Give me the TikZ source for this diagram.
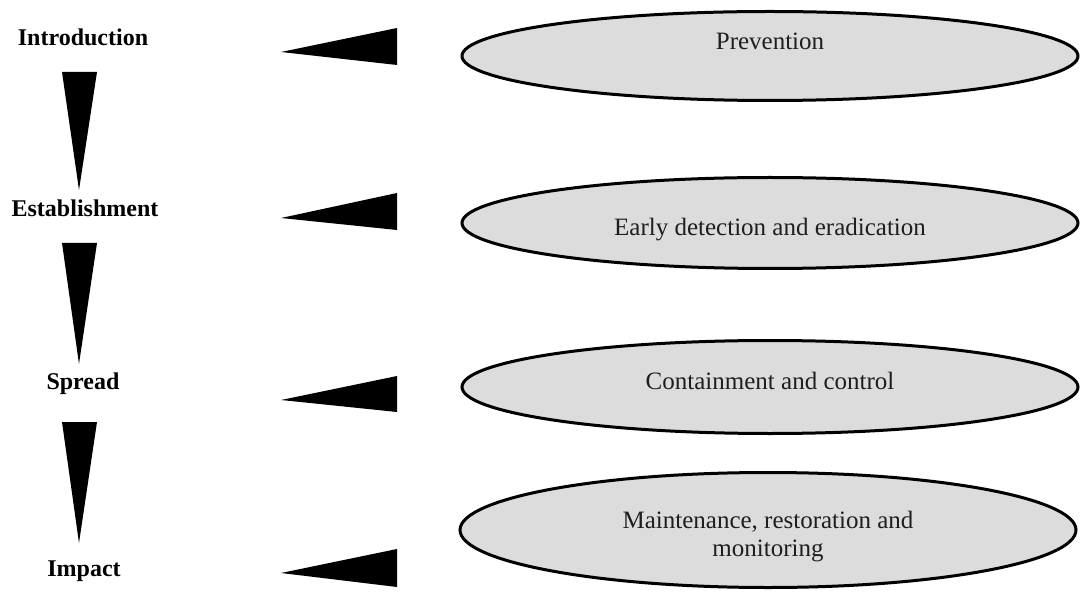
\documentclass[tikz,border=0pt]{standalone}
\usepackage{fontspec}
\setmainfont{Liberation Serif}
\usetikzlibrary{shapes.geometric}
\definecolor{ovalgray}{RGB}{220,220,220}
\definecolor{textgray}{RGB}{30,30,30}
% zero-size box: the text baseline sits at the oval centre, shifted by #1
\newcommand{\ovaltext}[2]{\raisebox{#1}[0pt][0pt]{#2}}
\begin{document}
\begin{tikzpicture}[x=1pt,y=-1pt,
  stage/.style={font=\fontsize{24}{28}\selectfont\bfseries, inner sep=0pt},
  measure/.style={ellipse, draw=black, line width=3pt, fill=ovalgray,
    minimum width=616pt, inner sep=0pt, font=\fontsize{25}{28}\selectfont,
    text=textgray, align=center},
  wedge/.style={fill=black}]
\useasboundingbox (0,0) rectangle (1083,593);

% invasion stages
\node[stage] (intro) at (83,37)  {Introduction};
\node[stage] (estab) at (85,208) {Establishment};
\node[stage] (spread) at (83,384) {Spread};
\node[stage] (impact) at (84,571) {Impact};

% management responses
\node[measure, minimum height=89pt] (prev) at (770,56)
  {\ovaltext{6pt}{Prevention}};
\node[measure, minimum height=91pt] (detect) at (770,223)
  {\ovaltext{-13pt}{Early detection and eradication}};
\node[measure, minimum height=93pt] (contain) at (770,387)
  {\ovaltext{-2pt}{Containment and control}};
\node[measure, minimum height=115pt] (maint) at (768,530)
  {\ovaltext{-13pt}{\begin{tabular}{@{}c@{}}Maintenance, restoration and\\monitoring\end{tabular}}};

% progression wedges between stages
\fill[wedge] (62,72) -- (97,72) -- (79,190) -- cycle;
\fill[wedge] (62,243) -- (97,243) -- (79,364) -- cycle;
\fill[wedge] (62,422) -- (97,422) -- (79,543) -- cycle;

% wedges from each response to its stage
\fill[wedge] (397,28) -- (397,65) -- (281,52) -- cycle;
\fill[wedge] (397,193) -- (397,230) -- (281,218) -- cycle;
\fill[wedge] (397,376) -- (397,412) -- (281,400) -- cycle;
\fill[wedge] (397,549) -- (397,587) -- (281,573) -- cycle;
\end{tikzpicture}
\end{document}
